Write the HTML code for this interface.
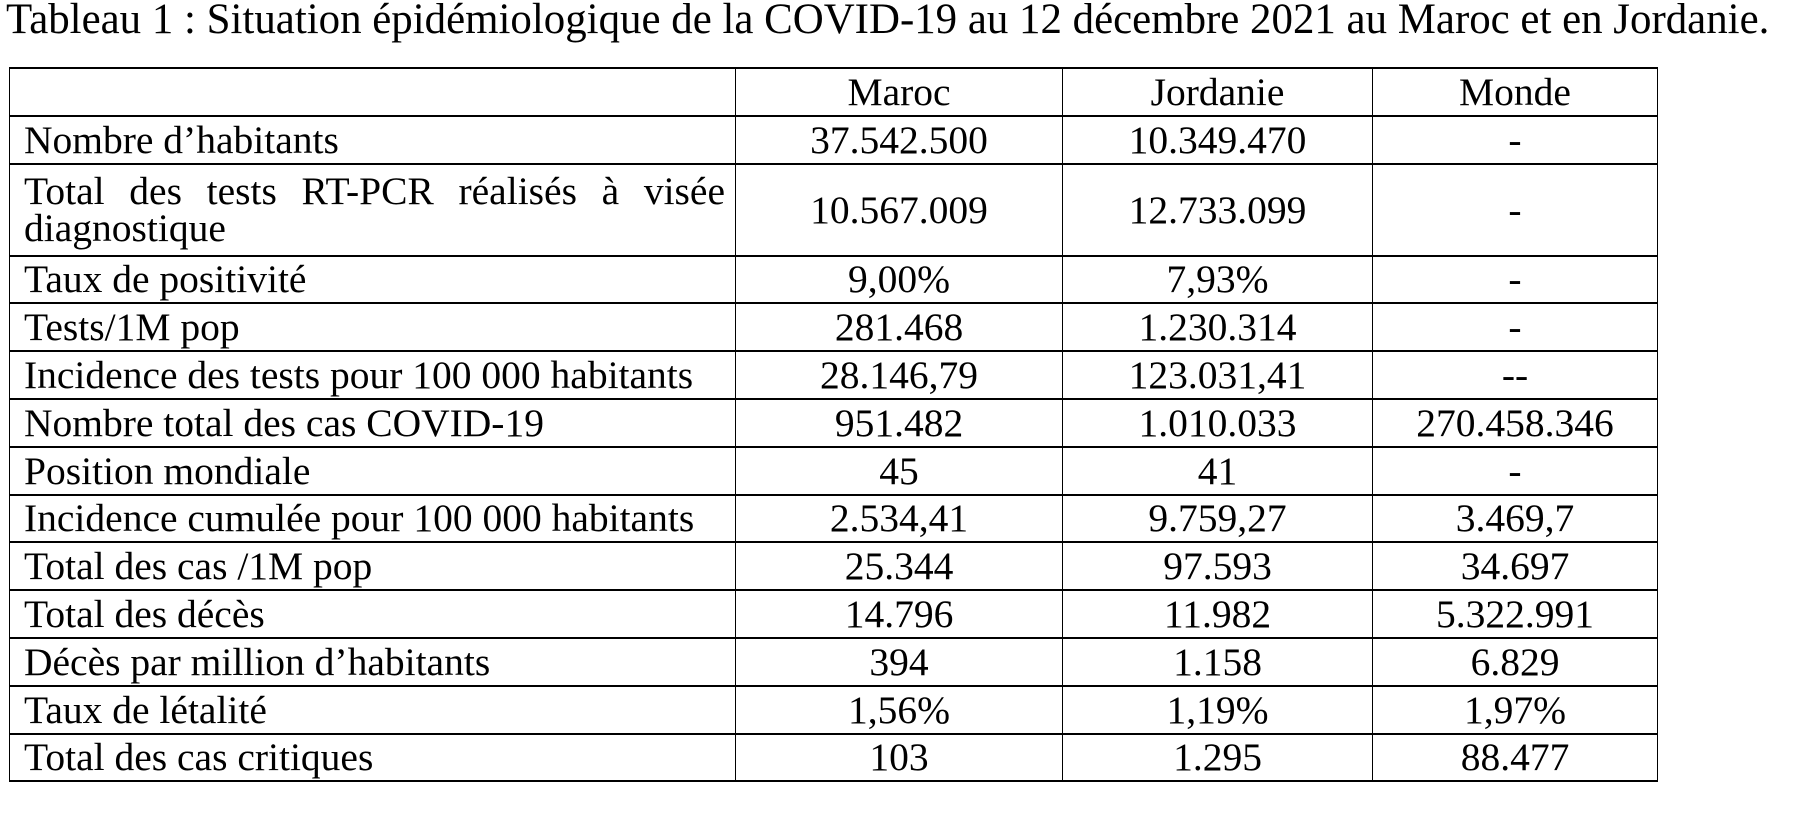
<!DOCTYPE html>
<html><head><meta charset="utf-8"><style>
html,body{margin:0;padding:0;background:#fff;width:1811px;height:818px;overflow:hidden}
body{font-family:"Liberation Serif",serif;color:#000;position:relative}
.t{position:absolute;left:6px;top:-3px;font-size:42.9px;white-space:nowrap;line-height:46px}
table{position:absolute;left:9px;top:67px;border-collapse:collapse;table-layout:fixed;font-size:39.5px;width:1648px}
td{border-left:1.5px solid #000;border-right:1.5px solid #000;border-top:2.5px solid #000;border-bottom:2.5px solid #000;height:45.8px;padding:0 6px;text-align:center;line-height:40px;white-space:nowrap;overflow:hidden}
td:first-child{text-align:left;padding-left:14px;padding-right:10px}
td.j{text-align:justify;text-align-last:left;white-space:normal;line-height:37px}
tr.d td{height:90px}
</style></head><body>
<div class="t">Tableau 1 : Situation épidémiologique de la COVID-19 au 12 décembre 2021 au Maroc et en Jordanie.</div>
<table>
<colgroup><col style="width:726px"><col style="width:327px"><col style="width:310px"><col style="width:285px"></colgroup>
<tr><td></td><td>Maroc</td><td>Jordanie</td><td>Monde</td></tr>
<tr><td>Nombre d’habitants</td><td>37.542.500</td><td>10.349.470</td><td>-</td></tr>
<tr class="d"><td class="j">Total des tests RT-PCR réalisés à visée diagnostique</td><td>10.567.009</td><td>12.733.099</td><td>-</td></tr>
<tr><td>Taux de positivité</td><td>9,00%</td><td>7,93%</td><td>-</td></tr>
<tr><td>Tests/1M pop</td><td>281.468</td><td>1.230.314</td><td>-</td></tr>
<tr><td>Incidence des tests pour 100 000 habitants</td><td>28.146,79</td><td>123.031,41</td><td>--</td></tr>
<tr><td>Nombre total des cas COVID-19</td><td>951.482</td><td>1.010.033</td><td>270.458.346</td></tr>
<tr><td>Position mondiale</td><td>45</td><td>41</td><td>-</td></tr>
<tr><td>Incidence cumulée pour 100 000 habitants</td><td>2.534,41</td><td>9.759,27</td><td>3.469,7</td></tr>
<tr><td>Total des cas /1M pop</td><td>25.344</td><td>97.593</td><td>34.697</td></tr>
<tr><td>Total des décès</td><td>14.796</td><td>11.982</td><td>5.322.991</td></tr>
<tr><td>Décès par million d’habitants</td><td>394</td><td>1.158</td><td>6.829</td></tr>
<tr><td>Taux de létalité</td><td>1,56%</td><td>1,19%</td><td>1,97%</td></tr>
<tr><td>Total des cas critiques</td><td>103</td><td>1.295</td><td>88.477</td></tr>
</table>
</body></html>
